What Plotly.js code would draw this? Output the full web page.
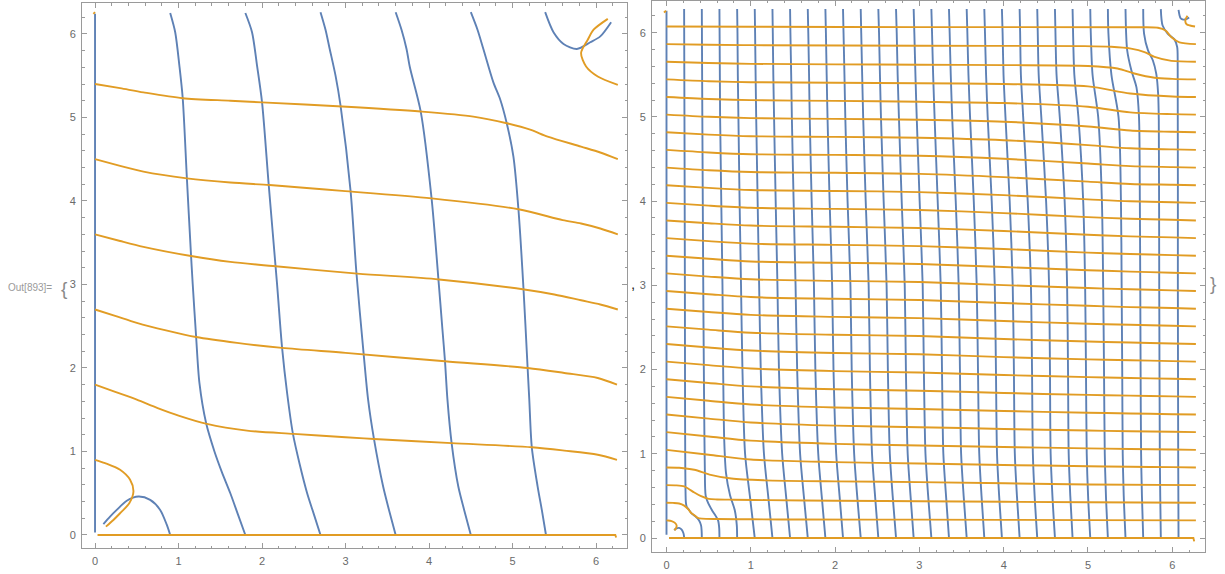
<!DOCTYPE html>
<html>
<head>
<meta charset="utf-8">
<script src="https://cdn.plot.ly/plotly-3.0.1.min.js"></script>
<style>html,body{margin:0;padding:0;background:#fff;}#chart{width:1225px;height:574px;}</style>
</head>
<body>
<div id="chart"></div>
<script>
// ---------- LEFT PLOT (level spacing ~0.9) ----------
// first family (blue): each curve given as cross-coordinate X along Y
const L_edgeX = [0, 0];             const L_edgeY = [0.03, 6.24];
const L_arcX = [0.1, 0.18, 0.26, 0.38, 0.52, 0.66, 0.78, 0.86, 0.9];
const L_arcY = [0.13, 0.22, 0.3, 0.41, 0.46, 0.42, 0.3, 0.12, 0];
const L_b1Y = [0, 0.25, 0.5, 0.75, 1.0, 1.34, 1.82, 2.38, 3.0, 3.34, 4.27, 5.23, 5.62, 6.02, 6.25];
const L_b1X = [1.8, 1.71, 1.62, 1.52, 1.43, 1.33, 1.25, 1.21, 1.17, 1.15, 1.1, 1.05, 1.01, 0.96, 0.9];
const L_b2Y = [0, 0.25, 0.5, 0.85, 1.21, 1.7, 2.24, 3.0, 4.19, 5.18, 5.62, 6.02, 6.25];
const L_b2X = [2.7, 2.62, 2.54, 2.45, 2.37, 2.3, 2.24, 2.18, 2.08, 2.0, 1.94, 1.88, 1.8];
const L_b3Y = [0, 0.3, 0.58, 1.15, 1.62, 2.13, 3.14, 4.12, 5.14, 5.5, 5.82, 6.05, 6.26];
const L_b3X = [3.6, 3.52, 3.45, 3.34, 3.27, 3.22, 3.13, 3.06, 2.94, 2.88, 2.81, 2.76, 2.7];
const L_b4Y = [0, 0.3, 0.58, 1.1, 1.62, 2.09, 2.46, 2.96, 4.03, 5.07, 5.6, 5.82, 6.05, 6.26];
const L_b4X = [4.5, 4.42, 4.35, 4.27, 4.22, 4.19, 4.16, 4.12, 4.03, 3.9, 3.77, 3.73, 3.67, 3.6];
const L_b5Y = [0, 0.3, 0.58, 1.05, 1.62, 2.0, 2.96, 3.9, 4.53, 4.93, 5.22, 5.42, 5.82, 6.05, 6.26];
const L_b5X = [5.4, 5.35, 5.3, 5.23, 5.2, 5.18, 5.13, 5.07, 5.01, 4.93, 4.85, 4.77, 4.65, 4.58, 4.5];
const L_topArcX = [5.39, 5.49, 5.61, 5.77, 5.93, 6.05, 6.18];
const L_topArcY = [6.26, 6.02, 5.88, 5.82, 5.9, 5.97, 6.14];
// second family (orange) edge marks
const L_baseX = [0.03, 6.23, 6.24]; const L_baseY = [0, 0, -0.03];
const L_dotX = [-0.02, 0.0];        const L_dotY = [6.24, 6.26];

// ---------- RIGHT PLOT (level spacing ~0.209) ----------
const R_sampleY = [6.28, 6, 5.5, 5, 4, 3, 2, 1, 0.5, 0];
const R_curvesX = [
  [0.838, 0.842, 0.846, 0.853, 0.867, 0.884, 0.901, 0.932, 0.989, 1.047],
  [1.047, 1.051, 1.057, 1.064, 1.081, 1.099, 1.118, 1.156, 1.206, 1.257],
  [1.257, 1.261, 1.267, 1.276, 1.295, 1.316, 1.334, 1.372, 1.418, 1.466],
  [1.466, 1.470, 1.479, 1.487, 1.508, 1.531, 1.550, 1.585, 1.629, 1.676],
  [1.676, 1.682, 1.691, 1.699, 1.722, 1.749, 1.766, 1.800, 1.841, 1.885],
  [1.885, 1.891, 1.900, 1.910, 1.935, 1.965, 1.981, 2.013, 2.053, 2.094],
  [2.094, 2.100, 2.111, 2.121, 2.148, 2.182, 2.197, 2.226, 2.262, 2.304],
  [2.304, 2.310, 2.321, 2.333, 2.363, 2.398, 2.413, 2.438, 2.474, 2.513],
  [2.513, 2.521, 2.532, 2.544, 2.576, 2.611, 2.626, 2.649, 2.683, 2.723],
  [2.723, 2.731, 2.742, 2.757, 2.790, 2.826, 2.840, 2.861, 2.895, 2.932],
  [2.932, 2.940, 2.953, 2.968, 3.003, 3.039, 3.053, 3.072, 3.104, 3.142],
  [3.142, 3.150, 3.163, 3.180, 3.217, 3.253, 3.268, 3.284, 3.316, 3.351],
  [3.351, 3.359, 3.372, 3.389, 3.431, 3.466, 3.481, 3.495, 3.525, 3.561],
  [3.561, 3.569, 3.582, 3.601, 3.645, 3.680, 3.695, 3.710, 3.737, 3.770],
  [3.770, 3.778, 3.791, 3.810, 3.858, 3.894, 3.908, 3.921, 3.946, 3.979],
  [3.979, 3.987, 3.998, 4.021, 4.071, 4.107, 4.121, 4.132, 4.157, 4.189],
  [4.189, 4.195, 4.204, 4.231, 4.285, 4.323, 4.336, 4.346, 4.367, 4.398],
  [4.398, 4.404, 4.415, 4.446, 4.503, 4.538, 4.549, 4.557, 4.578, 4.608],
  [4.608, 4.614, 4.627, 4.665, 4.723, 4.752, 4.763, 4.771, 4.790, 4.817],
  [4.817, 4.823, 4.838, 4.886, 4.943, 4.966, 4.976, 4.985, 5.001, 5.027],
  [5.027, 5.033, 5.054, 5.121, 5.165, 5.180, 5.190, 5.199, 5.213, 5.236],
  [5.236, 5.242, 5.278, 5.362, 5.391, 5.399, 5.406, 5.412, 5.424, 5.445]
];
const R_edgeX = [0, 0];   const R_edgeY = [0.04, 6.26];
const R_arcX = [0.09, 0.12, 0.15, 0.18, 0.2, 0.208, 0.209];
const R_arcY = [0.095, 0.115, 0.12, 0.1, 0.06, 0.02, 0];
const R_k1Y = [6.28, 5, 3, 1.6, 1.0, 0.6, 0.42, 0.37, 0.33, 0.29, 0.26, 0.21, 0.15, 0.08, 0];
const R_k1X = [0.209, 0.213, 0.218, 0.22, 0.222, 0.225, 0.23, 0.24, 0.27, 0.30, 0.34, 0.385, 0.41, 0.417, 0.419];
const R_k2Y = [6.28, 5, 3, 2, 1.2, 0.8, 0.6, 0.5, 0.41, 0.33, 0.26, 0.21, 0.12, 0];
const R_k2X = [0.419, 0.425, 0.436, 0.443, 0.45, 0.455, 0.458, 0.465, 0.496, 0.54, 0.585, 0.612, 0.625, 0.628];
const R_k3Y = [6.28, 5, 3, 2, 1.16, 0.77, 0.51, 0.33, 0.15, 0];
const R_k3X = [0.628, 0.636, 0.664, 0.672, 0.685, 0.706, 0.753, 0.81, 0.834, 0.838];
const R_k26Y = [6.28, 6.0, 5.79, 5.55, 5.35, 5.0, 4.0, 3.0, 2.0, 1.0, 0.5, 0];
const R_k26X = [5.445, 5.452, 5.465, 5.515, 5.575, 5.605, 5.615, 5.62, 5.624, 5.63, 5.64, 5.655];
const R_k27Y = [6.28, 5.99, 5.79, 5.67, 5.51, 5.275, 4.96, 3.0, 1.0, 0.5, 0];
const R_k27X = [5.655, 5.665, 5.712, 5.77, 5.81, 5.832, 5.84, 5.845, 5.852, 5.857, 5.864];
const R_k28Y = [6.28, 6.085, 5.99, 5.92, 5.83, 5.6, 3.0, 1.0, 0];
const R_k28X = [5.864, 5.885, 5.945, 6.025, 6.058, 6.064, 6.066, 6.07, 6.074];
const R_topArcX = [6.074, 6.085, 6.1, 6.13, 6.165, 6.2];
const R_topArcY = [6.27, 6.21, 6.17, 6.155, 6.16, 6.18];
const R_baseX = [0.03, 6.25, 6.26]; const R_baseY = [0, 0, -0.04];
const R_dotX = [-0.03, -0.005];     const R_dotY = [6.24, 6.26];

// ---------- build traces ----------
const BLUE = '#5E81B5', ORANGE = '#E19C24';
const traces = [];
function curve(x, y, color, ax, shape) {
  const ln = {color: color, width: 1.9, shape: shape || 'spline'};
  if (ln.shape === 'spline') ln.smoothing = 0.8;
  traces.push({type: 'scatter', mode: 'lines', x: x, y: y, xaxis: ax[0], yaxis: ax[1],
    line: ln, hoverinfo: 'skip'});
}
const LA = ['x', 'y'], RA = ['x2', 'y2'];
// first family curves; the second family is the same set mirrored across the diagonal
const leftFamily = [[L_edgeX, L_edgeY], [L_arcX, L_arcY], [L_b1X, L_b1Y], [L_b2X, L_b2Y],
  [L_b3X, L_b3Y], [L_b4X, L_b4Y], [L_b5X, L_b5Y], [L_topArcX, L_topArcY]];
const rightFamily = [[R_edgeX, R_edgeY], [R_arcX, R_arcY], [R_k1X, R_k1Y], [R_k2X, R_k2Y], [R_k3X, R_k3Y]]
  .concat(R_curvesX.map(cx => [cx, R_sampleY]))
  .concat([[R_k26X, R_k26Y], [R_k27X, R_k27Y], [R_k28X, R_k28Y], [R_topArcX, R_topArcY]]);

leftFamily.forEach(c => curve(c[0], c[1], BLUE, LA));
rightFamily.forEach(c => curve(c[0], c[1], BLUE, RA));
leftFamily.slice(1).forEach(c => curve(c[1], c[0], ORANGE, LA));
rightFamily.slice(1).forEach(c => curve(c[1], c[0], ORANGE, RA));
curve(L_baseX, L_baseY, ORANGE, LA, 'linear'); curve(L_dotX, L_dotY, ORANGE, LA, 'linear');
curve(R_baseX, R_baseY, ORANGE, RA, 'linear'); curve(R_dotX, R_dotY, ORANGE, RA, 'linear');

const FONT = 'Liberation Sans, Arial, sans-serif';
function axis(domain, range, anchor) {
  return {domain: domain, range: range, anchor: anchor, showgrid: false, zeroline: false,
    showline: true, linecolor: '#9a9a9a', linewidth: 1, mirror: 'allticks',
    ticks: 'inside', ticklen: 5, tickwidth: 1, tickcolor: '#9a9a9a',
    tick0: 0, dtick: 1, ticklabelstandoff: 3,
    tickfont: {family: FONT, size: 11, color: '#6a6a6a'},
    minor: {dtick: 0.2, tick0: 0, ticks: 'inside', ticklen: 2.5, tickwidth: 1, tickcolor: '#9a9a9a'},
    fixedrange: true};
}
const layout = {
  width: 1225, height: 574, margin: {l: 0, r: 0, t: 0, b: 0},
  paper_bgcolor: '#fff', plot_bgcolor: '#fff', showlegend: false,
  xaxis: axis([82/1225, 627/1225], [-0.156, 6.37], 'y'),
  yaxis: axis([26/574, 571/574], [-0.156, 6.37], 'x'),
  xaxis2: axis([652/1225, 1205/1225], [-0.172, 6.388], 'y2'),
  yaxis2: axis([22/574, 573.5/574], [-0.166, 6.382], 'x2'),
  annotations: [
    {text: 'Out[893]=', xref: 'paper', yref: 'paper', x: 6/1225, y: 1 - 287/574, xanchor: 'left', yanchor: 'middle',
      showarrow: false, font: {family: FONT, size: 10, color: '#9a9a9a'}},
    {text: '{', xref: 'paper', yref: 'paper', x: 64/1225, y: 1 - 288/574, xanchor: 'center', yanchor: 'middle',
      showarrow: false, font: {family: 'Liberation Sans, sans-serif', size: 19, color: '#8a8a8a'}},
    {text: ',', xref: 'paper', yref: 'paper', x: 633/1225, y: 1 - 284/574, xanchor: 'center', yanchor: 'middle',
      showarrow: false, font: {family: FONT, size: 15, color: '#222'}},
    {text: '}', xref: 'paper', yref: 'paper', x: 1213/1225, y: 1 - 284/574, xanchor: 'center', yanchor: 'middle',
      showarrow: false, font: {family: 'Liberation Sans, sans-serif', size: 19, color: '#8a8a8a'}}
  ]
};
Plotly.newPlot('chart', traces, layout, {staticPlot: true, displayModeBar: false});
</script>
</body>
</html>
